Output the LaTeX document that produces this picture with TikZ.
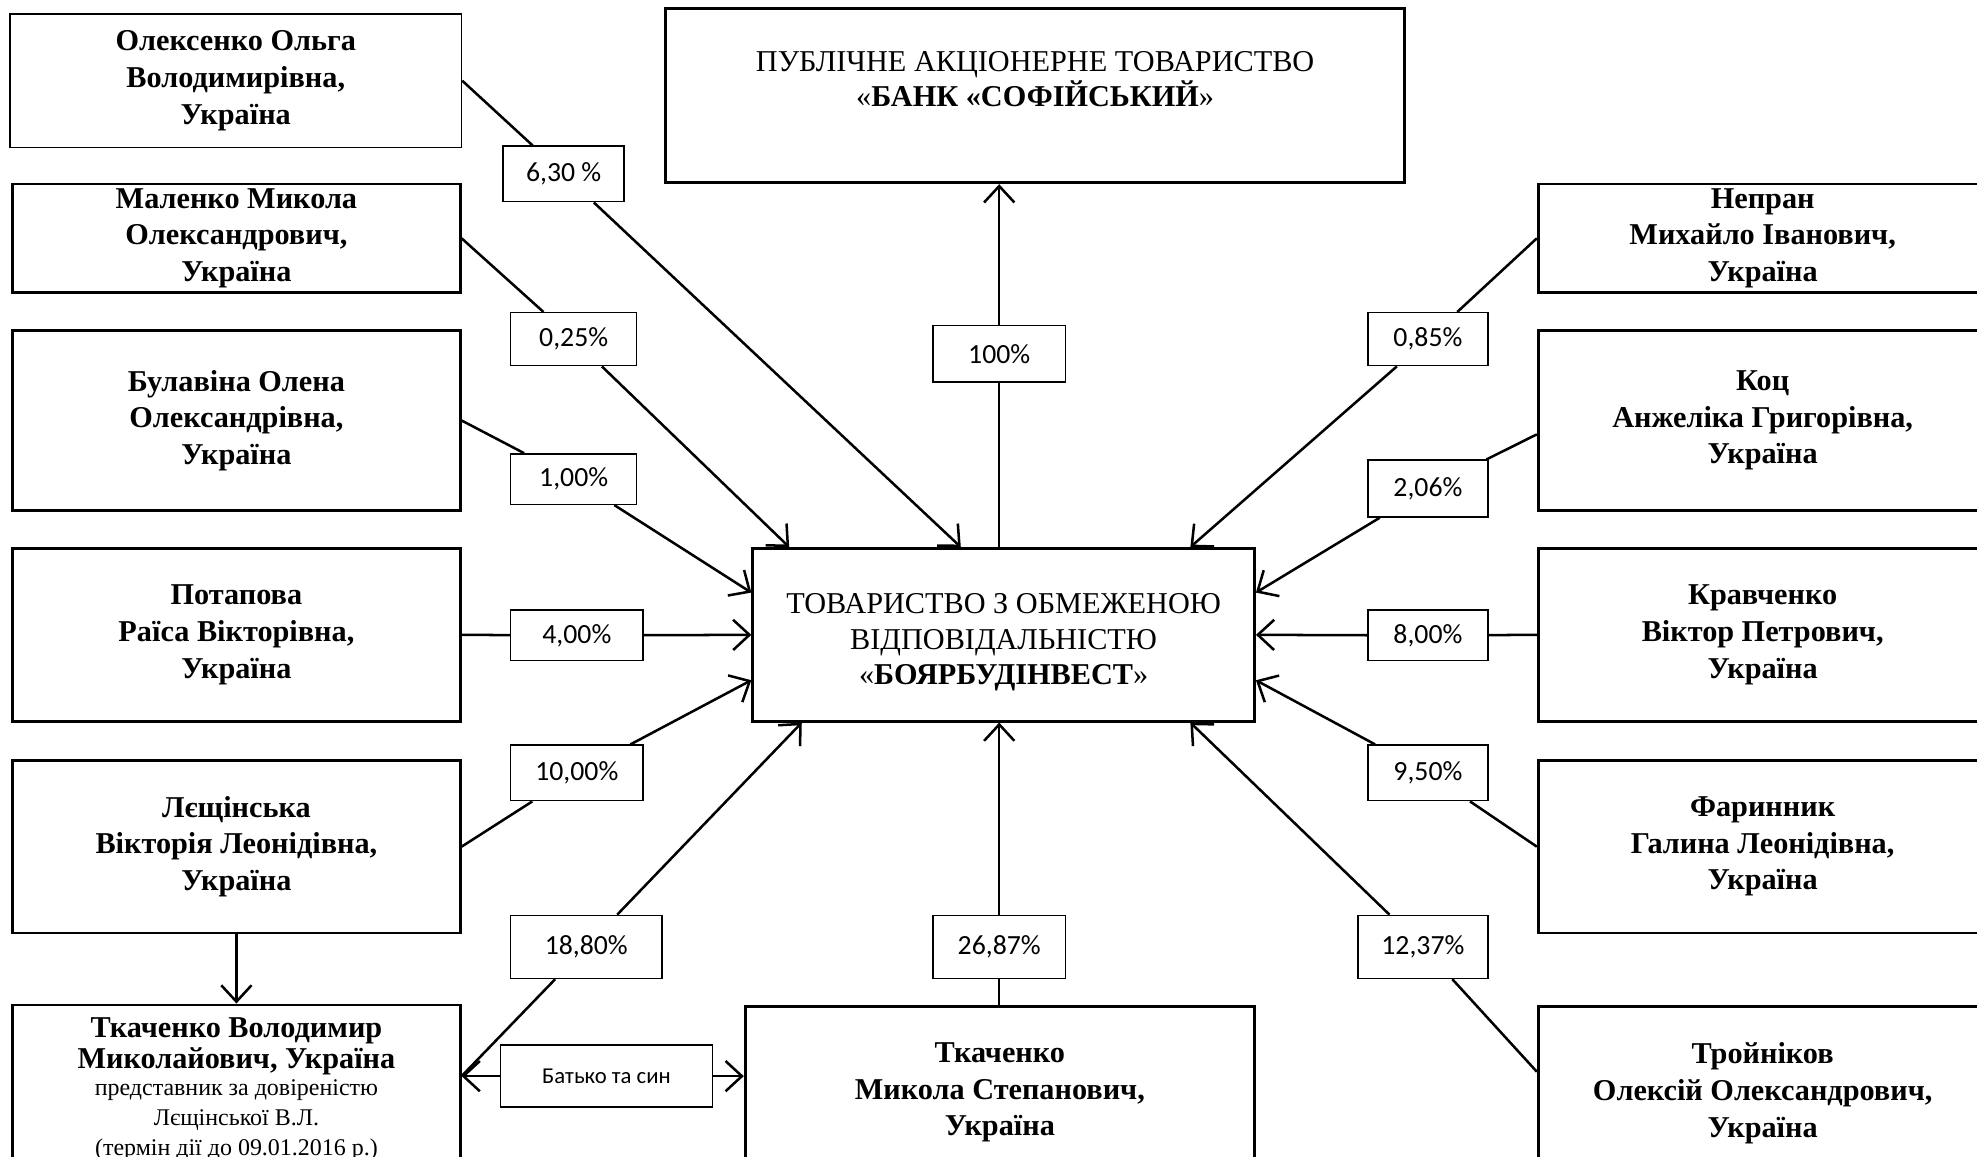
\documentclass[tikz,border=0pt]{standalone}
\usepackage{fontspec}
\setmainfont{Liberation Serif}
\newfontfamily\lblfont{Carlito}
\usetikzlibrary{arrows.meta,calc}
\begin{document}
\begin{tikzpicture}[x=1pt,y=-1pt,
  pbox/.style={draw, line width=2.2pt, inner sep=0pt, align=center, font=\fontsize{24}{29}\selectfont\bfseries},
  obox/.style={draw, line width=2.2pt, inner sep=0pt, align=center, font=\fontsize{24}{28}\selectfont},
  lbl/.style={draw, line width=1.2pt, fill=white, inner sep=0pt, align=center, font=\lblfont\fontsize{22}{26}\selectfont},
  conn/.style={line width=2pt},
  arr/.style={line width=2pt, -{Straight Barb[length=13pt,width=24pt,line width=2pt]}},
]
\useasboundingbox (0,0) rectangle (1568,917);
\clip (0,0) rectangle (1568,917);
% left column
\node[pbox, line width=1.2pt, minimum width=358pt, minimum height=106pt] (ole) at (187,64) {Олексенко Ольга\\ Володимирівна,\\ Україна};
\node[pbox, minimum width=355pt, minimum height=86pt] (mal) at (187.5,189) {Маленко Микола\\ Олександрович,\\ Україна};
\node[pbox, minimum width=355pt, minimum height=143pt] (bul) at (187.5,333.5) {Булавіна Олена\\ Олександрівна,\\ Україна};
\node[pbox, minimum width=355pt, minimum height=137pt] (pot) at (187.5,503.5) {Потапова\\ Раїса Вікторівна,\\ Україна};
\node[pbox, minimum width=355pt, minimum height=137pt] (les) at (187.5,671.5) {Лєщінська\\ Вікторія Леонідівна,\\ Україна};
\node[pbox, minimum width=355pt, minimum height=134pt, font=\fontsize{24}{25}\selectfont] (tkv) at (187.5,864) {\textbf{Ткаченко Володимир}\\ \textbf{Миколайович, Україна}\\[-4pt] {\fontsize{19}{24}\selectfont представник за довіреністю}\\[-1pt] {\fontsize{19}{24}\selectfont Лєщінської В.Л.}\\[-1pt] {\fontsize{19}{24}\selectfont (термін дії до 09.01.2016 р.)}};
% right column
\node[pbox, minimum width=356pt, minimum height=86pt] (nep) at (1398,189) {Непран\\ Михайло Іванович,\\ Україна};
\node[pbox, minimum width=356pt, minimum height=143pt] (koc) at (1398,333.5) {Коц\\ Анжеліка Григорівна,\\ Україна};
\node[pbox, minimum width=356pt, minimum height=137pt] (krav) at (1398,503.5) {Кравченко\\ Віктор Петрович,\\ Україна};
\node[pbox, minimum width=356pt, minimum height=137pt] (far) at (1398,671.5) {Фаринник\\ Галина Леонідівна,\\ Україна};
\node[pbox, minimum width=356pt, minimum height=138pt] (troj) at (1398,867) {Тройніков\\ Олексій Олександрович,\\ Україна};
% middle
\node[pbox, minimum width=404pt, minimum height=137pt] (tkm) at (793,866.5) {Ткаченко\\ Микола Степанович,\\ Україна};
\node[obox, minimum width=586pt, minimum height=138pt] (pat) at (821,76) {ПУБЛІЧНЕ АКЦІОНЕРНЕ ТОВАРИСТВО\\ «\textbf{БАНК «СОФІЙСЬКИЙ}»\\[-10pt] \strut};
\node[obox, minimum width=398pt, minimum height=137pt] (tov) at (796,503.5) {\strut\\[-20pt] ТОВАРИСТВО З ОБМЕЖЕНОЮ\\ ВІДПОВІДАЛЬНІСТЮ\\ «\textbf{БОЯРБУДІНВЕСТ}»};
% labels
\node[lbl, minimum width=96pt, minimum height=44pt] (l630) at (447,138) {6,30 \%};
\node[lbl, minimum width=100pt, minimum height=42pt] (l025) at (455,269) {0,25\%};
\node[lbl, minimum width=100pt, minimum height=40pt] (l100a) at (455,380) {1,00\%};
\node[lbl, minimum width=105pt, minimum height=40pt] (l400) at (457.5,504) {4,00\%};
\node[lbl, minimum width=105pt, minimum height=44pt] (l1000) at (457.5,613) {10,00\%};
\node[lbl, minimum width=120pt, minimum height=50pt] (l1880) at (465,751) {18,80\%};
\node[lbl, minimum width=105pt, minimum height=45pt] (l100) at (792.5,280.5) {100\%};
\node[lbl, minimum width=105pt, minimum height=50pt] (l2687) at (792.5,751) {26,87\%};
\node[lbl, minimum width=95pt, minimum height=42pt] (l085) at (1132.5,269) {0,85\%};
\node[lbl, minimum width=95pt, minimum height=45pt] (l206) at (1132.5,387.5) {2,06\%};
\node[lbl, minimum width=95pt, minimum height=40pt] (l800) at (1132.5,504) {8,00\%};
\node[lbl, minimum width=95pt, minimum height=44pt] (l950) at (1132.5,613) {9,50\%};
\node[lbl, minimum width=103pt, minimum height=50pt] (l1237) at (1128.5,751) {12,37\%};
\node[lbl, minimum width=168pt, minimum height=49pt, font=\lblfont\fontsize{18}{22}\selectfont] (lbs) at (481,853.5) {Батько та син};
% connectors left
\draw[conn] (ole.east) -- (l630);
\draw[arr] (l630) -- ([xshift=-34pt]tov.north);
\draw[conn] (mal.east) -- (l025);
\draw[arr] (l025) -- ([xshift=30pt]tov.north west);
\draw[conn] (bul.east) -- (l100a);
\draw[arr] (l100a) -- ([yshift=33.5pt]tov.west);
\draw[conn] (pot.east) -- (l400);
\draw[arr] (l400) -- (tov.west);
\draw[conn] (les.east) -- (l1000);
\draw[arr] (l1000) -- ([yshift=-36pt]tov.west);
\draw[conn] (l1880) -- (tkv.east |- lbs.center);
\draw[arr] (l1880) -- ([xshift=40pt]tov.south west);
% middle
\draw[conn] (tkm.north -| l2687) -- (l2687);
\draw[arr] (l2687) -- (l2687 |- tov.south);
\draw[conn] (l100 |- tov.north) -- (l100);
\draw[arr] (l100) -- (l100 |- pat.south);
% right
\draw[conn] (nep.west) -- (l085);
\draw[arr] (l085) -- ([xshift=-52pt]tov.north east);
\draw[conn] ([yshift=-11pt]koc.west) -- (l206);
\draw[arr] (l206) -- ([yshift=33.5pt]tov.east);
\draw[conn] (krav.west) -- (l800);
\draw[arr] (l800) -- (tov.east);
\draw[conn] (far.west) -- (l950);
\draw[arr] (l950) -- ([yshift=-36pt]tov.east);
\draw[conn] ([yshift=17pt]troj.west) -- (l1237);
\draw[arr] (l1237) -- ([xshift=-52pt]tov.south east);
% bottom
\draw[arr] (les.south) -- (tkv.north);
\draw[arr] (lbs) -- (tkv.east |- lbs.center);
\draw[arr] (lbs) -- (tkm.west |- lbs.center);
\end{tikzpicture}
\end{document}
